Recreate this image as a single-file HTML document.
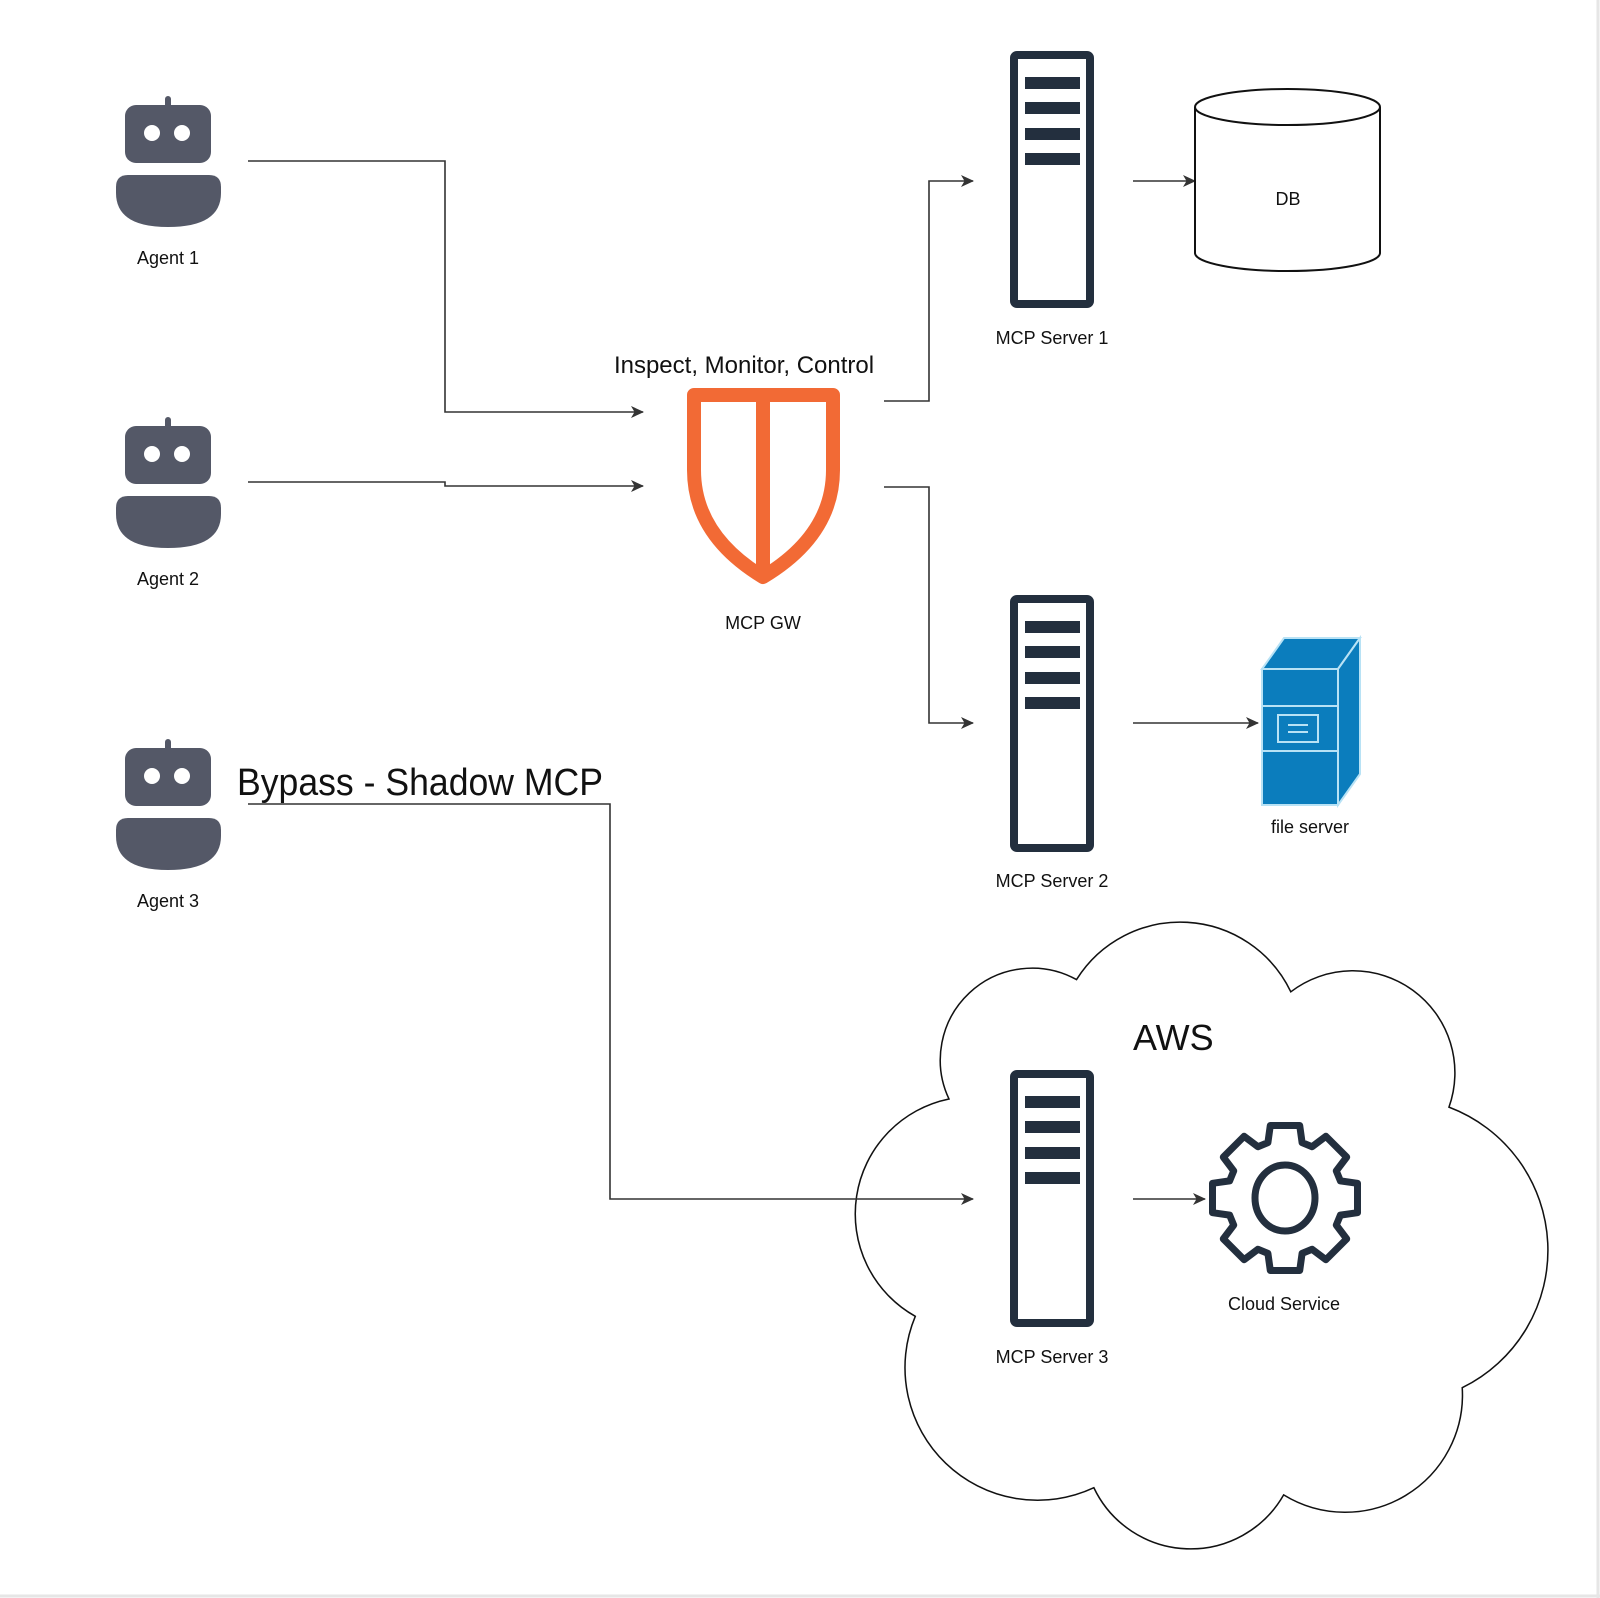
<!DOCTYPE html>
<html><head><meta charset="utf-8"><style>
html,body{margin:0;padding:0;background:#fff;}
svg{display:block}
text{font-family:"Liberation Sans",sans-serif;fill:#111;}
</style></head><body>
<svg width="1600" height="1598" viewBox="0 0 1600 1598" xmlns="http://www.w3.org/2000/svg">
<defs>
<marker id="ar" markerWidth="13" markerHeight="12" refX="12" refY="6" orient="auto" markerUnits="userSpaceOnUse">
<path d="M0,0 L13,6 L0,12 L3.5,6 z" fill="#333"/>
</marker>
</defs>
<rect x="0" y="0" width="1600" height="1598" fill="#fff"/>
<line x1="1598" y1="0" x2="1598" y2="1598" stroke="#e6e6e6" stroke-width="3"/>
<line x1="0" y1="1596" x2="1600" y2="1596" stroke="#e6e6e6" stroke-width="3"/>

<g transform="scale(1.0204)">
<path d="M930,1077 A90,90 0 0 1 1055,960 A120,120 0 0 1 1265,972 A100,100 0 0 1 1420,1085 A150,150 0 0 1 1433,1360 A115,115 0 0 1 1258,1465 A105,105 0 0 1 1072,1458 A130,130 0 0 1 897,1290 A115,115 0 0 1 930,1077 Z" fill="#fff" stroke="#111" stroke-width="1.5"/>
</g>

<g id="agent" fill="#545867">
<rect x="165" y="96" width="6" height="14" rx="3"/>
<rect x="125" y="105" width="86" height="58" rx="11"/>
<circle cx="152" cy="133" r="8" fill="#fff"/>
<circle cx="182" cy="133" r="8" fill="#fff"/>
<path d="M128,175 L209,175 Q221,175 221,187 L221,193 Q221,227 168,227 Q116,227 116,193 L116,187 Q116,175 128,175 Z"/>
</g>
<use href="#agent" transform="translate(0,321)"/>
<use href="#agent" transform="translate(0,643)"/>
<text x="168" y="264" font-size="18" text-anchor="middle">Agent 1</text>
<text x="168" y="585" font-size="18" text-anchor="middle">Agent 2</text>
<text x="168" y="907" font-size="18" text-anchor="middle">Agent 3</text>

<g fill="none" stroke="#333" stroke-width="1.6">
<polyline points="248,161 445,161 445,412 643,412" marker-end="url(#ar)"/>
<polyline points="248,482 445,482 445,486 643,486" marker-end="url(#ar)"/>
<polyline points="884,401 929,401 929,181 973,181" marker-end="url(#ar)"/>
<polyline points="884,487 929,487 929,723 973,723" marker-end="url(#ar)"/>
<polyline points="1133,181 1195,181" marker-end="url(#ar)"/>
<polyline points="1133,723 1258,723" marker-end="url(#ar)"/>
<polyline points="248,804 610,804 610,1199 973,1199" marker-end="url(#ar)"/>
<polyline points="1133,1199 1205,1199" marker-end="url(#ar)"/>
</g>

<g fill="none" stroke="#f26a35" stroke-width="14" stroke-linejoin="round">
<path d="M694,395 L833,395 L833,470 Q833,535 763,577 Q694,535 694,470 Z"/>
<line x1="763" y1="395" x2="763" y2="570"/>
</g>
<text x="744" y="373" font-size="24" text-anchor="middle">Inspect, Monitor, Control</text>
<text x="763" y="629" font-size="18" text-anchor="middle">MCP GW</text>

<g id="srv">
<rect x="1014" y="55" width="76" height="249" rx="3" fill="#fff" stroke="#232f3e" stroke-width="8"/>
<g fill="#232f3e">
<rect x="1025" y="77" width="55" height="12"/>
<rect x="1025" y="102" width="55" height="12"/>
<rect x="1025" y="128" width="55" height="12"/>
<rect x="1025" y="153" width="55" height="12"/>
</g>
</g>
<use href="#srv" transform="translate(0,544)"/>
<use href="#srv" transform="translate(0,1019)"/>
<text x="1052" y="344" font-size="18" text-anchor="middle">MCP Server 1</text>
<text x="1052" y="887" font-size="18" text-anchor="middle">MCP Server 2</text>
<text x="1052" y="1363" font-size="18" text-anchor="middle">MCP Server 3</text>

<path d="M1195,107 L1195,253 A92.5,18 0 0 0 1380,253 L1380,107" fill="#fff" stroke="#111" stroke-width="2"/>
<ellipse cx="1287.5" cy="107" rx="92.5" ry="18" fill="#fff" stroke="#111" stroke-width="2"/>
<text x="1288" y="205" font-size="18" text-anchor="middle">DB</text>

<g stroke="#b8e2f5" stroke-width="2">
<path d="M1262,669 L1284,638 L1360,638 L1338,669 Z" fill="#0b7dbd"/>
<path d="M1338,669 L1360,638 L1360,774 L1338,805 Z" fill="#0b7dbd"/>
<rect x="1262" y="669" width="76" height="136" fill="#0b7dbd"/>
<line x1="1262" y1="706" x2="1338" y2="706"/>
<line x1="1262" y1="751" x2="1338" y2="751"/>
<rect x="1278" y="715" width="40" height="27" fill="none"/>
<line x1="1288" y1="725" x2="1308" y2="725"/>
<line x1="1288" y1="732" x2="1308" y2="732"/>
</g>
<text x="1310" y="833" font-size="18" text-anchor="middle">file server</text>

<text x="1133" y="1050" font-size="36">AWS</text>

<path id="gear" fill="none" stroke="#232f3e" stroke-width="7" stroke-linejoin="round" d=""/>
<ellipse cx="1285" cy="1198" rx="30" ry="33" fill="none" stroke="#232f3e" stroke-width="7"/>
<text x="1284" y="1310" font-size="18" text-anchor="middle">Cloud Service</text>

<text x="237" y="795" font-size="38" textLength="366" lengthAdjust="spacingAndGlyphs">Bypass - Shadow MCP</text>
</svg>
<script>
(function(){
var cx=1285,cy=1198,R=74,r=58,pts=[];
for(var i=0;i<8;i++){
var t=i*Math.PI/4-Math.PI/2;
var a=[[-0.3,r],[-0.2,R],[0.2,R],[0.3,r]];
for(var j=0;j<4;j++){var an=t+a[j][0];pts.push((cx+a[j][1]*Math.cos(an)).toFixed(1)+","+(cy+a[j][1]*Math.sin(an)).toFixed(1));}
}
document.getElementById('gear').setAttribute('d','M'+pts.join(' L')+' Z');
})();
</script>
</body></html>
